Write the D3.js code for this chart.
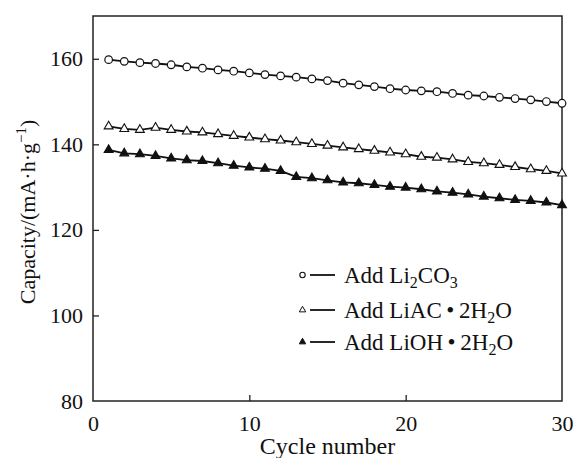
<!DOCTYPE html>
<html>
<head>
<meta charset="UTF-8">
<script src="https://d3js.org/d3.v7.min.js"></script>
<style>
  body { margin: 0; background: #fff; }
  text { font-family: "Liberation Serif", "Times New Roman", serif; fill: #111; }
</style>
</head>
<body>
<div id="chart"></div>
<script>
// ciclos y capacidades
var cycles = [1,2,3,4,5,6,7,8,9,10,11,12,13,14,15,16,17,18,19,20,21,22,23,24,25,26,27,28,29,30]
var li2co3 = [159.8,159.4,159.1,158.9,158.6,158.1,157.8,157.4,157.1,156.7,156.3,156.0,155.7,155.3,154.9,
              154.3,153.9,153.5,153.0,152.7,152.5,152.3,151.9,151.5,151.3,151.0,150.7,150.4,150.0,149.6]
var liac   = [144.2,143.6,143.4,143.9,143.4,143.0,142.8,142.4,142.0,141.6,141.2,140.9,140.5,140.1,139.7,
              139.3,138.9,138.5,138.1,137.7,137.1,136.9,136.5,135.9,135.6,135.2,134.7,134.2,133.8,133.2]
var lioh   = [138.7,137.9,137.7,137.3,136.7,136.3,136.1,135.6,135.0,134.6,134.3,133.8,132.4,132.1,131.6,
              131.1,130.9,130.5,130.1,129.9,129.5,129.0,128.7,128.3,127.8,127.4,127.0,126.8,126.4,125.8]
var xTicks = [0,10,20,30]
var yTicks = [80,100,120,140,160]

var width = 574, height = 458
var margin = {top: 16, right: 12, bottom: 57, left: 93}

var svg = d3.select("#chart").append("svg")
    .attr("width", width)
    .attr("height", height)

var x = d3.scaleLinear().domain([0,30]).range([margin.left, width - margin.right])
var y = d3.scaleLinear().domain([80,170]).range([height - margin.bottom, margin.top])

// marco
svg.append("rect")
    .attr("x", x(0)).attr("y", y(170))
    .attr("width", x(30) - x(0)).attr("height", y(80) - y(170))
    .attr("fill", "none").attr("stroke", "#222").attr("stroke-width", 1.5)

// eje x (ticks hacia dentro)
var xAxis = d3.axisBottom(x).tickValues(xTicks).tickSizeInner(-6).tickSizeOuter(0).tickPadding(14)
var gx = svg.append("g").attr("transform", "translate(0," + y(80) + ")").call(xAxis)
gx.select(".domain").remove()
gx.selectAll(".tick line").attr("stroke", "#222").attr("stroke-width", 1.3)
    .filter(function (d) { return d == 0 || d == 30 }).remove()
gx.selectAll("text").style("font-size", "22px").attr("fill", "#111")

// eje y
var yAxis = d3.axisLeft(y).tickValues(yTicks).tickSizeInner(-6).tickSizeOuter(0).tickPadding(10)
var gy = svg.append("g").attr("transform", "translate(" + x(0) + ",0)").call(yAxis)
gy.select(".domain").remove()
gy.selectAll(".tick line").attr("stroke", "#222").attr("stroke-width", 1.3)
    .filter(function (d) { return d == 80 }).remove()
gy.selectAll("text").style("font-size", "22px").attr("fill", "#111")

// titulos
svg.append("text")
    .attr("x", (x(0) + x(30)) / 2).attr("y", 454)
    .attr("text-anchor", "middle").style("font-size", "24px")
    .text("Cycle number")

var yt = svg.append("text")
    .attr("transform", "translate(35," + 212 + ") rotate(-90)")
    .attr("text-anchor", "middle").style("font-size", "22px")
yt.append("tspan").text("Capacity/(mA·h·g")
yt.append("tspan").attr("dy", -9).style("font-size", "15px").text("−1")
yt.append("tspan").attr("dy", 9).text(")")

var series = [
    {name: "li2co3", values: li2co3, marker: "circle"},
    {name: "liac", values: liac, marker: "open"},
    {name: "lioh", values: lioh, marker: "filled"}
]

var line = d3.line()
    .x(function (d, i) { return x(cycles[i]) })
    .y(function (d) { return y(d) })

var triangle = d3.symbol().type(d3.symbolTriangle).size(34)

series.forEach(function (s) {
    svg.append("path")
        .datum(s.values)
        .attr("d", line)
        .attr("fill", "none").attr("stroke", "#111").attr("stroke-width", 1.8)

    var g = svg.append("g")
    if (s.marker == "circle") {
        g.selectAll("circle").data(s.values).enter().append("circle")
            .attr("cx", function (d, i) { return x(cycles[i]) })
            .attr("cy", function (d) { return y(d) })
            .attr("r", 3.8)
            .attr("fill", "#fff").attr("stroke", "#111").attr("stroke-width", 1.2)
    } else {
        g.selectAll("path").data(s.values).enter().append("path")
            .attr("d", triangle)
            .attr("transform", function (d, i) { return "translate(" + x(cycles[i]) + "," + y(d) + ")" })
            .attr("fill", s.marker == "filled" ? "#111" : "#fff")
            .attr("stroke", "#111").attr("stroke-width", 1.1)
    }
})

// leyenda
var legend = svg.append("g")
var rows = [275, 310, 342]
var legTriangle = d3.symbol().type(d3.symbolTriangle).size(18)

legend.append("circle").attr("cx", 302.5).attr("cy", rows[0]).attr("r", 2.7)
    .attr("fill", "#fff").attr("stroke", "#111").attr("stroke-width", 1.1)
legend.append("path").attr("d", legTriangle).attr("transform", "translate(302.5," + rows[1] + ")")
    .attr("fill", "#fff").attr("stroke", "#111").attr("stroke-width", 1)
legend.append("path").attr("d", legTriangle).attr("transform", "translate(302.5," + rows[2] + ")")
    .attr("fill", "#111").attr("stroke", "#111").attr("stroke-width", 1)

rows.forEach(function (r) {
    legend.append("line").attr("x1", 310).attr("x2", 335).attr("y1", r).attr("y2", r)
        .attr("stroke", "#111").attr("stroke-width", 1.8)
})

function sub(t, s) { t.append("tspan").attr("dy", 5).style("font-size", "16px").text(s) }
function up(t) { return t.append("tspan").attr("dy", -5) }

var t1 = legend.append("text").attr("x", 344).attr("y", rows[0] + 8).style("font-size", "23px")
t1.append("tspan").text("Add Li")
sub(t1, "2")
up(t1).text("CO")
sub(t1, "3")

var t2 = legend.append("text").attr("x", 344).attr("y", rows[1] + 8).style("font-size", "23px")
t2.append("tspan").text("Add LiAC\u2009•\u20092H")
sub(t2, "2")
up(t2).text("O")

var t3 = legend.append("text").attr("x", 344).attr("y", rows[2] + 8).style("font-size", "23px")
t3.append("tspan").text("Add LiOH\u2009•\u20092H")
sub(t3, "2")
up(t3).text("O")
</script>
</body>
</html>
